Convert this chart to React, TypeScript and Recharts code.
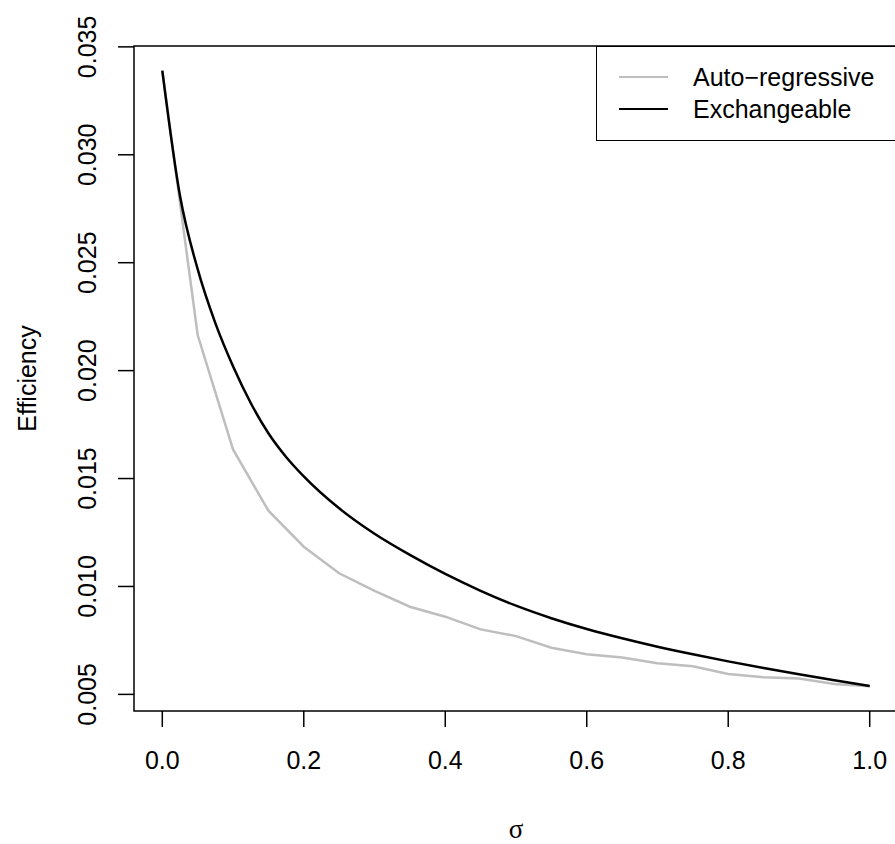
import React from 'react';
import { LineChart, Line, XAxis, YAxis, ReferenceArea, Legend } from 'recharts';

// sigma grid for the auto-regressive series
const arSigma = [0, 0.05, 0.1, 0.15, 0.2, 0.25, 0.3, 0.35, 0.4, 0.45, 0.5, 0.55, 0.6, 0.65, 0.7, 0.75, 0.8, 0.85, 0.9, 0.95, 1.0];
const autoRegressive = [
  0.0339, 0.02165, 0.01635, 0.01351, 0.01184, 0.01061, 0.0098, 0.00906, 0.0086, 0.00801, 0.0077,
  0.00716, 0.00686, 0.00671, 0.00644, 0.0063, 0.00594, 0.00579, 0.00574, 0.00548, 0.00538,
];

// exchangeable curve, read a little denser near zero where it bends
const exSigma = [
  0, 0.025, 0.05, 0.075, 0.1, 0.125, 0.15, 0.175, 0.2, 0.25, 0.3, 0.35, 0.4, 0.45, 0.5, 0.55, 0.6, 0.65, 0.7, 0.75, 0.8,
  0.85, 0.9, 0.95, 1.0,
];
const exchangeable = [
  0.0339, 0.0281, 0.0247, 0.0222, 0.0202, 0.0185, 0.0171, 0.016, 0.0151, 0.01362, 0.01244, 0.01146, 0.01058, 0.0098,
  0.00911, 0.00853, 0.00803, 0.0076, 0.00721, 0.00686, 0.00653, 0.00622, 0.00593, 0.00565, 0.00539,
];

const xTicks = [0, 0.2, 0.4, 0.6, 0.8, 1.0];
const yTicks = [0.005, 0.01, 0.015, 0.02, 0.025, 0.03, 0.035];

const seriesNames = ['Auto\u2212regressive', 'Exchangeable'];
const seriesColors = ['#bebebe', '#000000'];

const arData = arSigma.map((s, i) => ({ s, v: autoRegressive[i] }));
const exData = exSigma.map((s, i) => ({ s, v: exchangeable[i] }));

const FONT = '"Liberation Sans", Arial, Helvetica, sans-serif';
const X_DOMAIN: [number, number] = [-0.04, 1.04];
const Y_DOMAIN: [number, number] = [0.00423, 0.03504];

const XTick = (props: any) => {
  const { x, y, payload } = props;
  return (
    <text x={x} y={y} dy={40} textAnchor="middle" fontSize={25} fill="#000" fontFamily={FONT}>
      {Number(payload.value).toFixed(1)}
    </text>
  );
};

const YTick = (props: any) => {
  const { x, y, payload } = props;
  return (
    <text
      transform={`translate(${x - 20},${y}) rotate(-90)`}
      textAnchor="middle"
      fontSize={25}
      fill="#000"
      fontFamily={FONT}
    >
      {Number(payload.value).toFixed(3)}
    </text>
  );
};

const LegendBox = () => (
  <div
    style={{
      width: 320,
      height: 95,
      border: '1.5px solid #000',
      boxSizing: 'border-box',
      background: '#fff',
      fontFamily: FONT,
      fontSize: 25,
      paddingTop: 14,
    }}
  >
    {seriesNames.map((name, i) => (
      <div key={name} style={{ display: 'flex', alignItems: 'center', height: 32 }}>
        <span style={{ display: 'inline-block', marginLeft: 22, width: 49, height: 2.5, background: seriesColors[i] }} />
        <span style={{ marginLeft: 25, color: '#000' }}>{name}</span>
      </div>
    ))}
  </div>
);

export default function App() {
  return (
    <div style={{ position: 'absolute', left: 0, top: 0, width: 895, height: 844, overflow: 'hidden', background: '#fff' }}>
      <LineChart width={900} height={844} margin={{ top: 46, right: 2, bottom: 0, left: 0 }}>
        <XAxis
          type="number"
          dataKey="s"
          domain={X_DOMAIN}
          ticks={xTicks}
          interval={0}
          height={133}
          axisLine={false}
          tickSize={16}
          tickLine={{ stroke: '#000', strokeWidth: 1.5 }}
          tick={<XTick />}
          allowDataOverflow
          label={{
            content: (p: any) => {
              const vb = p.viewBox;
              return (
                <text x={vb.x + vb.width / 2} y={vb.y + vb.height - 6} textAnchor="middle" fontSize={27} fontFamily='"Liberation Serif", "DejaVu Serif", serif'>
                  σ
                </text>
              );
            },
          }}
        />
        <YAxis
          type="number"
          dataKey="v"
          domain={Y_DOMAIN}
          ticks={yTicks}
          interval={0}
          width={134}
          axisLine={false}
          tickSize={16}
          tickLine={{ stroke: '#000', strokeWidth: 1.5 }}
          tick={<YTick />}
          allowDataOverflow
          label={{
            content: (p: any) => {
              const vb = p.viewBox;
              return (
                <text
                  transform={`translate(${vb.x + 36},${vb.y + vb.height / 2}) rotate(-90)`}
                  textAnchor="middle"
                  fontSize={25}
                  fontFamily={FONT}
                >
                  Efficiency
                </text>
              );
            },
          }}
        />
        <ReferenceArea
          x1={X_DOMAIN[0]}
          x2={X_DOMAIN[1]}
          y1={Y_DOMAIN[0]}
          y2={Y_DOMAIN[1]}
          fill="none"
          stroke="#000"
          strokeWidth={1.5}
          ifOverflow="visible"
        />
        <Line
          data={arData}
          dataKey="v"
          name={seriesNames[0]}
          type="linear"
          stroke={seriesColors[0]}
          strokeWidth={2.5}
          dot={false}
          isAnimationActive={false}
        />
        <Line
          data={exData}
          dataKey="v"
          name={seriesNames[1]}
          type="monotone"
          stroke={seriesColors[1]}
          strokeWidth={2.5}
          dot={false}
          isAnimationActive={false}
        />
        <Legend
          layout="horizontal"
          verticalAlign="middle"
          align="center"
          content={<LegendBox />}
          wrapperStyle={{ position: 'absolute', left: 596, top: 46, width: 320, height: 95 }}
        />
      </LineChart>
    </div>
  );
}
